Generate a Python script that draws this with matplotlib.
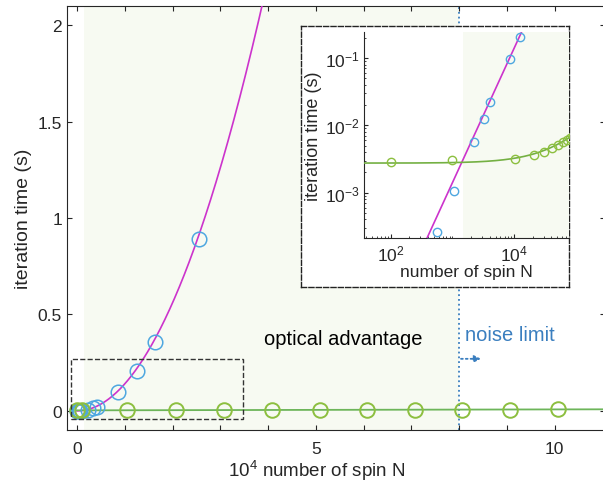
import numpy as np
import matplotlib
matplotlib.use("Agg")
from matplotlib import pyplot as plt
from matplotlib.patches import Rectangle
from matplotlib.ticker import LogLocator, NullFormatter

# digital (blue) measured iteration time vs number of spins
n_digital = [100, 200, 400, 555, 1050, 2240, 3300, 4100, 8600, 12500, 16300, 25500]
t_digital = [1.5e-5, 6e-5, 1.8e-4, 2.6e-4, 1.05e-3, 5.6e-3, 0.0126, 0.022, 0.096, 0.205, 0.358, 0.892]

# optical (green) measured iteration time
n_optical = [100, 1000, 10500, 20700, 30800, 40800, 50800, 60800, 70700, 80700, 90600, 100600]
t_optical = [2.9e-3, 3.1e-3, 3.2e-3, 3.6e-3, 4.05e-3, 4.6e-3, 5.1e-3, 5.6e-3, 6.0e-3, 6.6e-3, 7.0e-3, 7.6e-3]

# fits
a_dig = 1.4e-9      # t = a N^2
c_opt = 2.75e-3     # t = c + d N
d_opt = 4.9e-8

shade_start = 1500
noise_limit = 8.0e4

blue = '#4ea7e0'
green_mk = '#8cbf3f'
green_ln = '#6db55a'
magenta = '#cc33cc'
shade = '#f7faf2'
dark = '#262626'
noise_col = '#3a7ebf'

plt.rcParams['font.family'] = ['Liberation Sans', 'DejaVu Sans']
plt.rcParams['axes.edgecolor'] = dark
plt.rcParams['xtick.color'] = dark
plt.rcParams['ytick.color'] = dark

fig = plt.figure(figsize=(6.03, 4.85), dpi=100)
ax = fig.add_axes([0.111, 0.111, 0.892, 0.8746])

sc = 1e4
ax.axvspan(shade_start / sc, noise_limit / sc, color=shade, lw=0, zorder=0)
ax.axvline(noise_limit / sc, color=noise_col, ls=':', lw=1.3, zorder=1)

nn = np.linspace(0, 4.5e4, 400)
ax.plot(nn / sc, a_dig * nn**2, color=magenta, lw=1.2, zorder=3)
nn2 = np.linspace(0, 1.1e5, 50)
ax.plot(nn2 / sc, c_opt + d_opt * nn2, color=green_ln, lw=1.3, zorder=3)

ax.plot(np.array(n_digital) / sc, t_digital, 'o', ms=10.5, mfc='none', mec=blue, mew=1.1, zorder=4)
ax.plot(np.array(n_optical) / sc, t_optical, 'o', ms=10.5, mfc='none', mec=green_mk, mew=1.4, zorder=4)

ax.add_patch(Rectangle((-0.12, -0.043), 3.59, 0.313, fill=False, ls='--', lw=1.0,
                       ec='#333333', zorder=5))

ax.annotate('', xy=(8.46, 0.27), xytext=(8.04, 0.27),
            arrowprops=dict(arrowstyle='-|>', ls=':', color=noise_col, lw=1.3,
                            mutation_scale=10, shrinkA=0, shrinkB=0))
ax.text(8.12, 0.397, 'noise limit', color=noise_col, fontsize=14.5, va='center', ha='left')
ax.text(5.57, 0.377, 'optical advantage', color='black', fontsize=14.5, va='center', ha='center')

ax.set_xlim(-0.21, 11.05)
ax.set_ylim(-0.1, 2.1)
ax.set_xticks(range(0, 11))
ax.set_xticklabels(['0', '', '', '', '', '5', '', '', '', '', '10'])
ax.set_yticks([0, 0.5, 1, 1.5, 2])
ax.set_yticklabels(['0', '0.5', '1', '1.5', '2'])
ax.tick_params(direction='in', top=True, right=True, length=3.5, width=0.8, labelsize=12.5)
ax.tick_params(axis='x', pad=7.5)
for s in ax.spines.values():
    s.set_linewidth(0.8)
ax.set_xlabel(r'$\mathdefault{10^4}$ number of spin N', fontsize=13.5, color=dark)
ax.xaxis.set_label_coords(0.464, -0.066)
ax.set_ylabel('iteration time (s)', fontsize=14, color=dark)

# inset box
box = fig.add_axes([0.499, 0.4056, 0.445, 0.5381])
box.set_xticks([])
box.set_yticks([])
box.set_facecolor('white')
for s in box.spines.values():
    s.set_linestyle('--')
    s.set_linewidth(1.0)
    s.set_edgecolor('#222222')

ins = fig.add_axes([0.604, 0.5066, 0.340, 0.4254])
ins.set_xscale('log')
ins.set_yscale('log')
ins.set_xlim(37.4, 7.8e4)
ins.set_ylim(2.1e-4, 0.244)
ins.axvspan(shade_start, 1e6, color=shade, lw=0, zorder=0)
ni = np.logspace(1, 5.2, 200)
ins.plot(ni, a_dig * ni**2, color=magenta, lw=1.2, zorder=3)
ins.plot(ni, c_opt + d_opt * ni, color='#74b043', lw=1.2, zorder=3)
ins.plot(n_digital, t_digital, 'o', ms=6, mfc='none', mec=blue, mew=1.0, zorder=4)
ins.plot(n_optical, t_optical, 'o', ms=6, mfc='none', mec=green_mk, mew=1.0, zorder=4)
ins.set_xticks([1e2, 1e4])
ins.xaxis.set_minor_locator(LogLocator(base=10, subs=np.arange(1, 10) * 1.0, numticks=20))
ins.xaxis.set_minor_formatter(NullFormatter())
ins.yaxis.set_major_locator(LogLocator(base=10, numticks=10))
ins.yaxis.set_minor_locator(LogLocator(base=10, subs=np.arange(2, 10) * 1.0, numticks=20))
ins.yaxis.set_minor_formatter(NullFormatter())
ins.tick_params(which='both', direction='in', labelsize=12.5)
ins.tick_params(which='major', length=3)
ins.tick_params(which='minor', length=1.5)
ins.spines['top'].set_visible(False)
ins.spines['right'].set_visible(False)
ins.set_xlabel('number of spin N', fontsize=12.5, color=dark, labelpad=1)
ins.set_ylabel('iteration time (s)', fontsize=13, color=dark, labelpad=2)

plt.savefig('out.png', dpi=100)
